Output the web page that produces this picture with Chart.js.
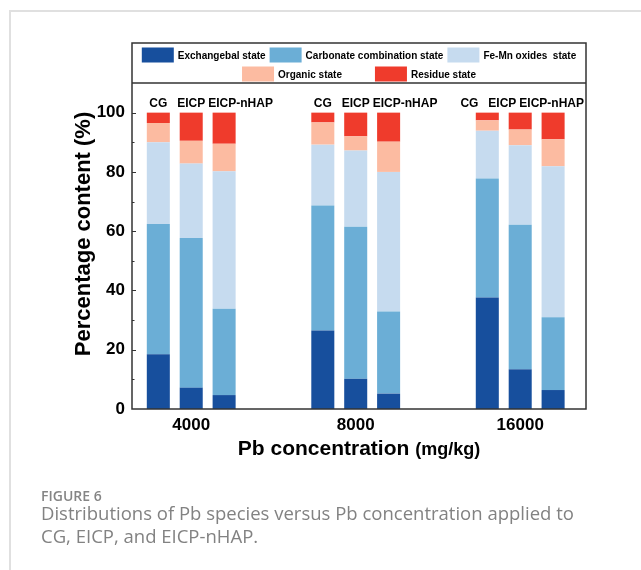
<!DOCTYPE html>
<html>
<head>
<meta charset="utf-8">
<script src="https://cdn.jsdelivr.net/npm/chart.js@4.4.0/dist/chart.umd.min.js"></script>
<style>
  html, body { margin: 0; padding: 0; background: #fff; }
  #page { position: relative; width: 641px; height: 570px; overflow: hidden; }
  #card { position: absolute; left: 9px; top: 10px; right: -5px; bottom: -5px;
          border-left: 2px solid #e0e0e0; border-top: 2px solid #e0e0e0; }
  #chartBox { position: absolute; left: 0; top: 0; width: 641px; height: 570px; }
  .cap { position: absolute; left: 41px; font-family: "Open Sans", sans-serif; color: #828282; white-space: nowrap; }
  #figNo { top: 486px; font-size: 14px; font-weight: 600; color: #858585; }
  #capText { top: 501px; font-size: 18.5px; line-height: 23px; }
</style>
</head>
<body>
<div id="page">
  <div id="card"></div>
  <div id="chartBox"><canvas id="speciesChart"></canvas></div>
  <div class="cap" id="figNo">FIGURE 6</div>
  <div class="cap" id="capText">Distributions of Pb species versus Pb concentration applied to<br>CG, EICP, and EICP-nHAP.</div>
</div>
<script>
// ===== DATA =====
var concentrations = ['4000', '8000', '16000'];
var treatments = ['CG', 'EICP', 'EICP-nHAP'];
var speciesNames = ['Exchangebal state', 'Carbonate combination state', 'Fe-Mn oxides  state', 'Organic state', 'Residue state'];
var speciesColors = ['#174f9d', '#6baed6', '#c6dbef', '#fcbba1', '#ef3b2c'];

// rows = species (same order as speciesNames), columns = concentrations
var cgValues = [
    [18.5, 26.5, 37.6],
    [43.9, 42.2, 40.2],
    [27.6, 20.5, 16.1],
    [6.5, 7.5, 3.5],
    [3.5, 3.3, 2.6]
];
var eicpValues = [
    [7.2, 10.2, 13.4],
    [50.5, 51.3, 48.8],
    [25.1, 25.7, 26.8],
    [7.7, 4.8, 5.3],
    [9.5, 8.0, 5.7]
];
var nhapValues = [
    [4.7, 5.2, 6.4],
    [29.1, 27.7, 24.6],
    [46.4, 47.1, 50.9],
    [9.3, 10.2, 9.1],
    [10.5, 9.8, 9.0]
];
var valuesByTreatment = [cgValues, eicpValues, nhapValues];

var FONT = '"Liberation Sans", Arial, sans-serif';

// ===== DATASETS =====
var datasets = [];
treatments.forEach(function (t, ti) {
    speciesNames.forEach(function (name, si) {
        datasets.push({
            label: name,
            stack: t,
            backgroundColor: speciesColors[si],
            borderWidth: 0,
            data: valuesByTreatment[ti][si].map(function (v, ci) { return { x: ci, y: v }; })
        });
    });
});

// ===== FRAME, LEGEND, LABELS =====
var framePlugin = {
    id: 'framePlugin',
    afterDraw: function (chart) {
        var ctx = chart.ctx;
        var area = chart.chartArea;
        var yScale = chart.scales.y;
        var boxTop = 43;

        ctx.save();

        // treatment labels above each group of bars
        ctx.font = 'bold 12px ' + FONT;
        ctx.fillStyle = '#000';
        ctx.textBaseline = 'middle';
        ctx.textAlign = 'left';
        var labelY = yScale.getPixelForValue(103);
        concentrations.forEach(function (c, ci) {
            var xs = treatments.map(function (t, ti) {
                return chart.getDatasetMeta(ti * speciesNames.length).data[ci].x;
            });
            var w = treatments.map(function (t) { return ctx.measureText(t).width; });
            var starts = [xs[0] - w[0] / 2, xs[1] - w[1] / 2, xs[1] + w[1] / 2 + 3];
            var overflow = starts[2] + w[2] - (area.right - 2);
            var shift = overflow > 0 ? overflow : 0;
            treatments.forEach(function (t, ti) {
                ctx.fillText(t, starts[ti] - shift, labelY);
            });
        });

        // legend box rows
        ctx.font = 'bold 10px ' + FONT;
        var rows = [[0, 1, 2], [3, 4]];
        var rowY = [55, 74];
        var rowGap = [4, 33];
        var swW = 32, swH = 15, swGap = 4;
        rows.forEach(function (row, ri) {
            var total = 0;
            row.forEach(function (si, k) {
                total += swW + swGap + ctx.measureText(speciesNames[si]).width;
                if (k > 0) total += rowGap[ri];
            });
            var x = (area.left + area.right) / 2 - total / 2;
            row.forEach(function (si) {
                ctx.fillStyle = speciesColors[si];
                ctx.fillRect(x, rowY[ri] - swH / 2, swW, swH);
                ctx.fillStyle = '#000';
                ctx.fillText(speciesNames[si], x + swW + swGap, rowY[ri] + 1);
                x += swW + swGap + ctx.measureText(speciesNames[si]).width + rowGap[ri];
            });
        });

        // frame around legend + plot
        ctx.strokeStyle = '#333';
        ctx.lineWidth = 1.5;
        ctx.strokeRect(area.left, boxTop, area.right - area.left, area.bottom - boxTop);
        ctx.beginPath();
        ctx.moveTo(area.left, area.top);
        ctx.lineTo(area.right, area.top);
        ctx.stroke();

        // inward ticks on the y axis
        ctx.lineWidth = 1;
        for (var v = 10; v <= 100; v += 10) {
            var py = Math.round(yScale.getPixelForValue(v)) + 0.5;
            var len = (v % 20 === 0) ? 4 : 2.5;
            ctx.beginPath();
            ctx.moveTo(area.left, py);
            ctx.lineTo(area.left + len, py);
            ctx.stroke();
        }

        // axis titles
        ctx.fillStyle = '#000';
        ctx.textBaseline = 'middle';
        ctx.save();
        ctx.translate(84, 234);
        ctx.rotate(-Math.PI / 2);
        ctx.textAlign = 'center';
        ctx.font = 'bold 22px ' + FONT;
        ctx.fillText('Percentage content (%)', 0, 0);
        ctx.restore();

        var part1 = 'Pb concentration ';
        var part2 = '(mg/kg)';
        ctx.font = 'bold 21px ' + FONT;
        var w1 = ctx.measureText(part1).width;
        ctx.font = 'bold 18px ' + FONT;
        var w2 = ctx.measureText(part2).width;
        var startX = (area.left + area.right) / 2 - (w1 + w2) / 2;
        ctx.textAlign = 'left';
        ctx.textBaseline = 'alphabetic';
        ctx.font = 'bold 21px ' + FONT;
        ctx.fillText(part1, startX, 455);
        ctx.font = 'bold 18px ' + FONT;
        ctx.fillText(part2, startX + w1, 455);

        ctx.restore();
    }
};

// ===== CHART =====
new Chart(document.getElementById('speciesChart'), {
    type: 'bar',
    data: { datasets: datasets },
    options: {
        responsive: true,
        maintainAspectRatio: false,
        animation: false,
        layout: { padding: { left: 0, right: 55, top: 83, bottom: 0 } },
        datasets: { bar: { categoryPercentage: 0.6, barPercentage: 0.7 } },
        plugins: { legend: { display: false }, tooltip: { enabled: false } },
        scales: {
            x: {
                type: 'linear',
                offset: false,
                stacked: true,
                min: -0.36,
                max: 2.4,
                grid: { display: false, drawTicks: false, offset: false },
                border: { display: false },
                afterBuildTicks: function (scale) {
                    scale.ticks = concentrations.map(function (c, i) { return { value: i }; });
                },
                afterFit: function (scale) { scale.height = 161; },
                ticks: {
                    padding: 6,
                    color: '#000',
                    font: { family: FONT, size: 17, weight: 'bold' },
                    callback: function (v) { return concentrations[v]; }
                }
            },
            y: {
                stacked: true,
                min: 0,
                max: 110,
                grid: { display: false, drawTicks: false },
                border: { display: false },
                afterFit: function (scale) { scale.width = 132; },
                ticks: {
                    stepSize: 20,
                    includeBounds: false,
                    padding: 7,
                    color: '#000',
                    font: { family: FONT, size: 17, weight: 'bold' }
                }
            }
        }
    },
    plugins: [framePlugin]
});
</script>
</body>
</html>
